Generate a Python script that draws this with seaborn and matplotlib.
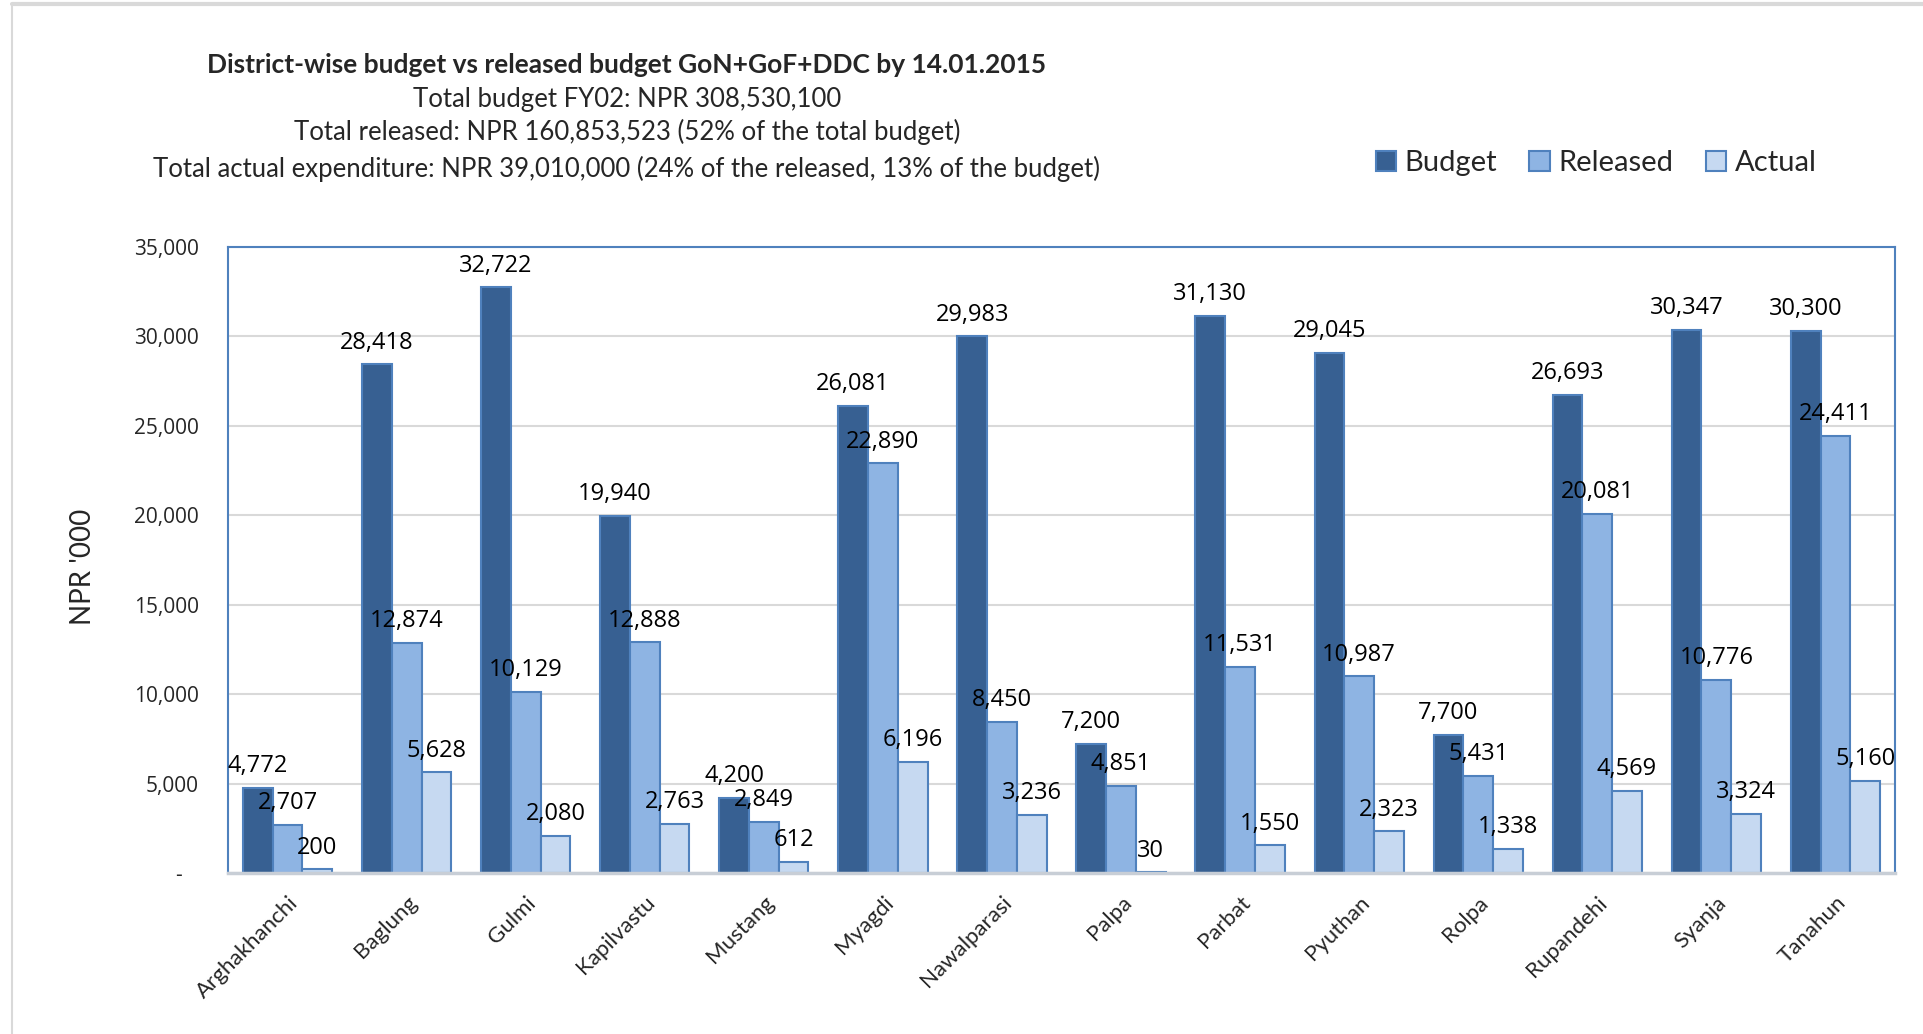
import matplotlib
matplotlib.use("Agg")
import matplotlib.pyplot as plt
import seaborn as sns
import pandas as pd
from matplotlib.patches import Patch
from matplotlib.lines import Line2D

districts = ["Arghakhanchi", "Baglung", "Gulmi", "Kapilvastu", "Mustang", "Myagdi",
             "Nawalparasi", "Palpa", "Parbat", "Pyuthan", "Rolpa", "Rupandehi",
             "Syanja", "Tanahun"]
budget = [4772, 28418, 32722, 19940, 4200, 26081, 29983, 7200, 31130, 29045, 7700, 26693, 30347, 30300]
released = [2707, 12874, 10129, 12888, 2849, 22890, 8450, 4851, 11531, 10987, 5431, 20081, 10776, 24411]
actual = [200, 5628, 2080, 2763, 612, 6196, 3236, 30, 1550, 2323, 1338, 4569, 3324, 5160]
series = ["Budget", "Released", "Actual"]
y_ticks = [0, 5000, 10000, 15000, 20000, 25000, 30000, 35000]

title_lines = [
    "District-wise budget vs released budget GoN+GoF+DDC by 14.01.2015",
    "Total budget FY02: NPR 308,530,100",
    "Total released: NPR 160,853,523 (52% of the total budget)",
    "Total actual expenditure: NPR 39,010,000 (24% of the released, 13% of the budget)",
]

colors = ["#376092", "#8EB4E3", "#C6D9F1"]
edge = "#4F81BD"

df = pd.DataFrame({
    "District": districts * 3,
    "Series": [s for s in series for _ in districts],
    "Value": budget + released + actual,
})

sns.set_theme(style="white")
plt.rcParams["font.family"] = ["Lato", "DejaVu Sans"]

fig = plt.figure(figsize=(19.23, 10.34), dpi=100)
ax = fig.add_axes([0.1186, 0.1557, 0.8668, 0.6059])

sns.barplot(data=df, x="District", y="Value", hue="Series", hue_order=series,
            palette=colors, saturation=1, width=0.75, ax=ax, legend=False,
            edgecolor=edge, linewidth=1.5, errorbar=None)

for cont in ax.containers:
    ax.bar_label(cont, labels=[f"{v:,.0f}" for v in cont.datavalues],
                 padding=7, fontsize=17, family="Open Sans", color="black")

ax.set_ylim(0, 35000)
ax.set_xlim(-0.5, len(districts) - 0.5)
ax.set_yticks(y_ticks)
ax.set_yticklabels(["-   "] + [f"{v:,}" for v in y_ticks[1:]], fontsize=15,
                   family="Open Sans")
ax.tick_params(axis="y", length=0, pad=21)
ax.tick_params(axis="x", length=0, pad=14)
plt.setp(ax.get_xticklabels(), rotation=45, ha="right", rotation_mode="anchor",
         fontsize=16)
ax.set_xlabel("")
ax.set_ylabel("")
ax.yaxis.grid(True, color="#D9D9D9", linewidth=1.5)
ax.set_axisbelow(True)
for s in ["left", "top", "right"]:
    ax.spines[s].set_color(edge)
    ax.spines[s].set_linewidth(1.5)
ax.spines["bottom"].set_color("#C8CED6")
ax.spines["bottom"].set_linewidth(2.5)

fig.text(0.043, 0.452, "NPR '000", rotation=90, ha="center", va="center", fontsize=20)

ys = [0.937, 0.904, 0.872, 0.837]
sizes = [19, 18.5, 18.5, 18.5]
for i, (t, y) in enumerate(zip(title_lines, ys)):
    fig.text(0.326, y, t, ha="center", va="center", fontsize=sizes[i],
             fontweight="bold" if i == 0 else "normal")

handles = [Patch(facecolor=c, edgecolor=edge, linewidth=1.5) for c in colors]
fig.legend(handles, series, loc="center", bbox_to_anchor=(0.830, 0.842), ncol=3,
           frameon=False, fontsize=21, handlelength=0.7, handleheight=0.7,
           handletextpad=0.3, columnspacing=1.1)

# outer frame of the screenshot
fig.add_artist(Line2D([0.006, 0.006], [0, 0.996], transform=fig.transFigure,
                      color="#D9D9D9", linewidth=1.5))
fig.add_artist(Line2D([0.006, 1], [0.996, 0.996], transform=fig.transFigure,
                      color="#D9D9D9", linewidth=3))

fig.savefig("out.png", dpi=100)
